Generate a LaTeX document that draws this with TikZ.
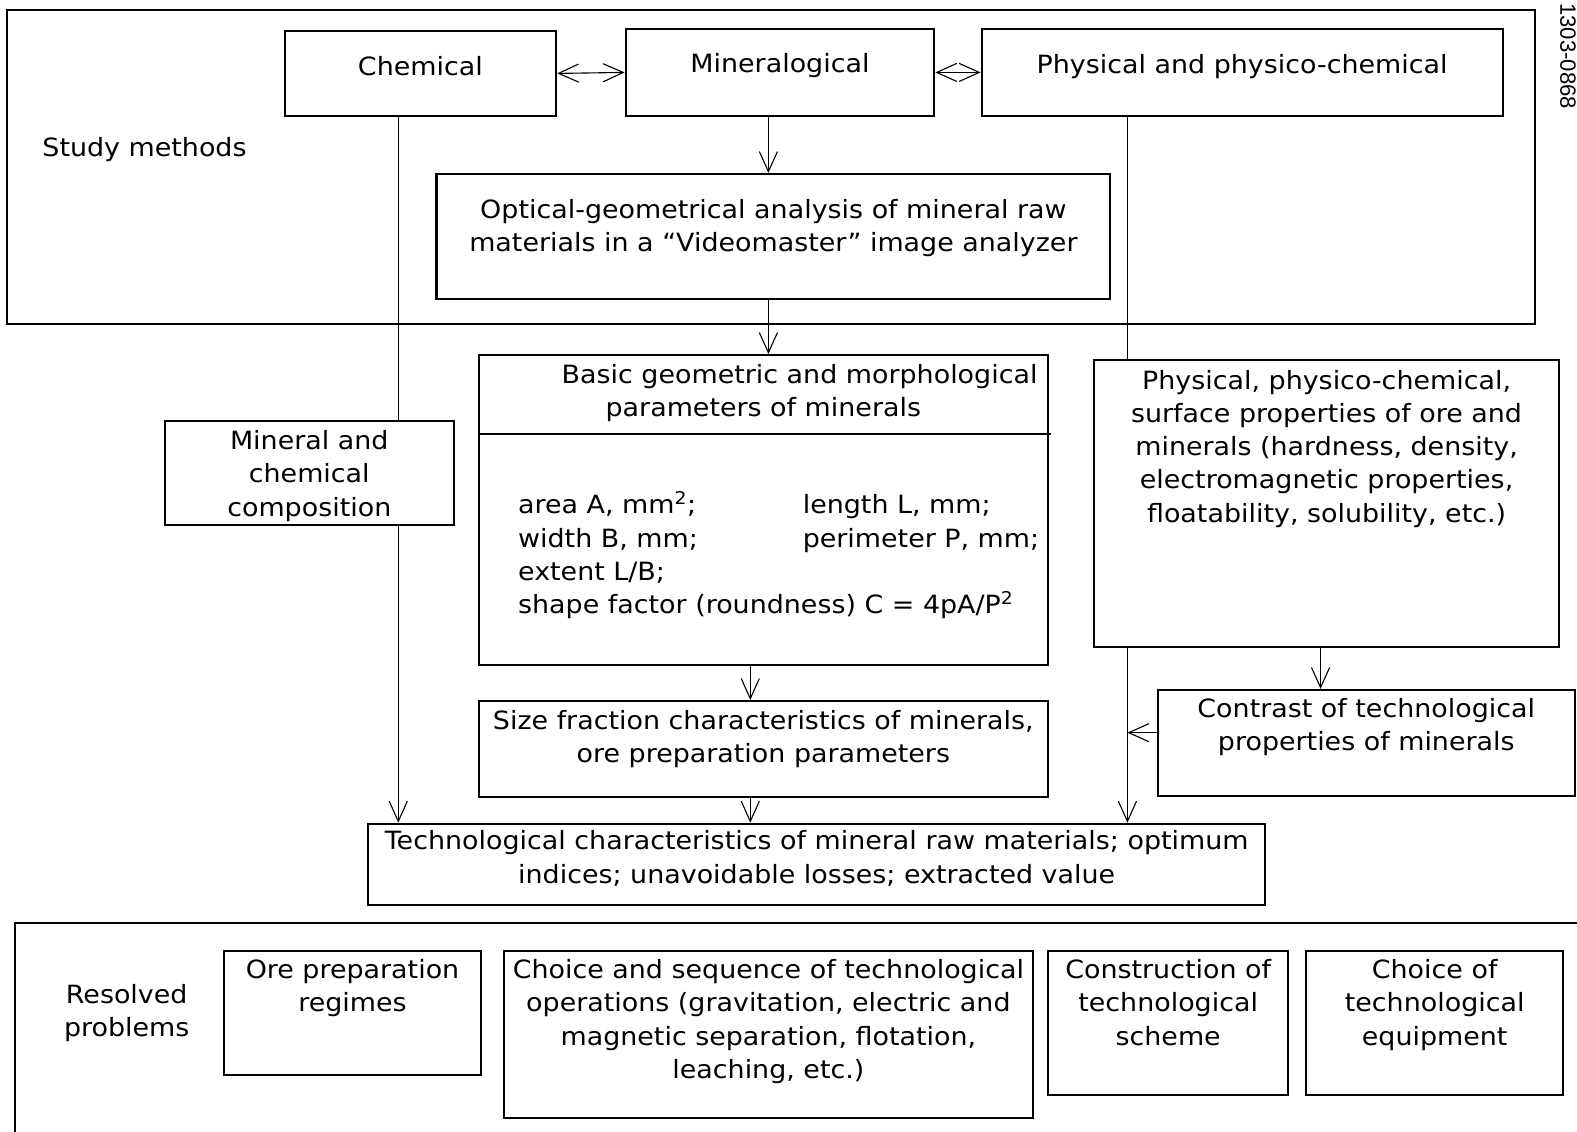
\documentclass[tikz,border=0pt]{standalone}
\usepackage{fontspec}
\setmainfont{DejaVu Sans}[FakeStretch=1.07]
\newfontfamily\codefont{Liberation Sans}
\usetikzlibrary{arrows.meta, positioning}

% box text: width, height, top gap, text
\newcommand{\boxtext}[4]{\parbox[c][#2][t]{#1}{\centering\vspace*{#3}\strut #4}}

\begin{document}
\begin{tikzpicture}[x=1pt, y=-1pt, font=\fontsize{25}{33}\selectfont,
    box/.style={draw, line width=2pt, inner sep=0pt, anchor=north west},
    link/.style={line width=1.1pt},
    arr/.style={link, -{Straight Barb[length=20pt,width=18pt,line width=1.1pt]}},
    dbl/.style={link, {Straight Barb[length=20pt,width=18pt,line width=1.1pt]}-{Straight Barb[length=20pt,width=18pt,line width=1.1pt]}}]
    \useasboundingbox (0,0) rectangle (1568,1125);

    % frames
    \draw[line width=2pt] (7,10) rectangle (1526,322);
    \draw[line width=2pt] (15,918) rectangle (1620,1160);
    \node[anchor=base west, inner sep=0pt] (study) at (42,156) {Study methods};
    \node[align=center] (resolved) at (126,1007) {Resolved\\ problems};
    \node[font=\codefont\fontsize{22}{26}\selectfont, rotate=-90, anchor=west, inner sep=0pt] (code) at (1559,3) {1303-0868};

    % study methods
    \node[box] (chem) at (282,30) {\boxtext{270pt}{84pt}{21pt}{Chemical}};
    \node[box] (miner) at (621,28) {\boxtext{307pt}{86pt}{20pt}{Mineralogical}};
    \node[box] (phys) at (975,28) {\boxtext{518pt}{86pt}{21pt}{Physical and physico-chemical}};
    \node[box] (optic) at (433,172) {\boxtext{670pt}{124pt}{21pt}{Optical-geometrical analysis of mineral raw\\ materials in a ``Videomaster'' image analyzer}};

    % results
    \node[box] (basic) at (475,352) {\boxtext{566pt}{308pt}{5pt}{\hspace*{72pt}Basic geometric and morphological\\ parameters of minerals}};
    \coordinate (divy) at (0,432);
    \draw[line width=2pt] (basic.west |- divy) -- ([xshift=2pt]basic.east |- divy);
    \node[anchor=base west, align=left, inner sep=0pt] (params) at (515,610)
        {\makebox[283pt][l]{area A, mm\textsuperscript{2};}length L, mm;\\
         \makebox[283pt][l]{width B, mm;}perimeter P, mm;\\
         extent L/B;\\
         shape factor (roundness) C = 4pA/P\textsuperscript{2}};
    \node[box] (mincomp) at (163,418) {\boxtext{287pt}{103pt}{5pt}{Mineral and\\ chemical\\ composition}};
    \node[box] (props) at (1087,357) {\boxtext{462pt}{285pt}{6pt}{Physical, physico-chemical,\\ surface properties of ore and\\ minerals (hardness, density,\\ electromagnetic properties,\\ floatability, solubility, etc.)}};
    \node[box] (contrast) at (1150,685) {\boxtext{415pt}{105pt}{4pt}{Contrast of technological\\ properties of minerals}};
    \node[box] (size) at (475,696) {\boxtext{566pt}{95pt}{5pt}{Size fraction characteristics of minerals,\\ ore preparation parameters}};
    \node[box] (tech) at (365,818) {\boxtext{892pt}{81pt}{3pt}{Technological characteristics of mineral raw materials; optimum\\ indices; unavoidable losses; extracted value}};

    % resolved problems
    \node[box] (regime) at (222,945) {\boxtext{255pt}{123pt}{4pt}{Ore preparation\\ regimes}};
    \node[box] (choice) at (500,945) {\boxtext{526pt}{166pt}{4pt}{Choice and sequence of technological\\ operations (gravitation, electric and\\ magnetic separation, flotation,\\ leaching, etc.)}};
    \node[box] (scheme) at (1041,945) {\boxtext{239pt}{143pt}{4pt}{Construction of\\ technological\\ scheme}};
    \node[box] (equip) at (1298,945) {\boxtext{255pt}{143pt}{4pt}{Choice of\\ technological\\ equipment}};

    % connectors
    \coordinate (chemx) at (396,0);
    \coordinate (physx) at (1121,0);
    \coordinate (midx) at (764,0);
    \coordinate (lowx) at (746,0);
    \coordinate (propx) at (1313,0);
    \draw[dbl] (chem.east) -- (miner.west);
    \draw[dbl] (miner.east) -- (phys.west);
    \draw[arr] (miner.south -| midx) -- (optic.north -| midx);
    \draw[arr] (optic.south -| midx) -- (basic.north -| midx);
    \draw[link] (chem.south -| chemx) -- (mincomp.north -| chemx);
    \draw[arr] (mincomp.south -| chemx) -- (tech.north -| chemx);
    \draw[link] (phys.south -| physx) -- (props.north -| physx);
    \draw[arr] (props.south -| physx) -- (tech.north -| physx);
    \draw[arr] (props.south -| propx) -- (contrast.north -| propx);
    \coordinate (cw) at ([yshift=10pt]contrast.west);
    \draw[arr] (cw) -- (cw -| physx);
    \draw[arr] (basic.south -| lowx) -- (size.north -| lowx);
    \draw[arr] (size.south -| lowx) -- (tech.north -| lowx);
\end{tikzpicture}
\end{document}
